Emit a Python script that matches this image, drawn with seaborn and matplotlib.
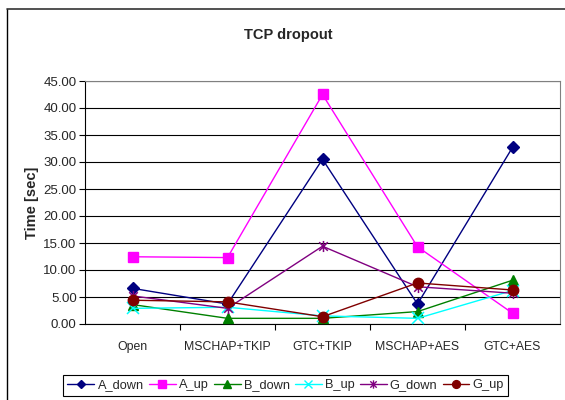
import numpy as np
import pandas as pd
import matplotlib
matplotlib.use("Agg")
import matplotlib.pyplot as plt
from matplotlib.lines import Line2D
from matplotlib.path import Path
import seaborn as sns

categories = ["Open", "MSCHAP+TKIP", "GTC+TKIP", "MSCHAP+AES", "GTC+AES"]
a_down = [6.6, 3.7, 30.5, 3.7, 32.7]
a_up = [12.45, 12.3, 42.5, 14.3, 2.0]
b_down = [3.6, 1.05, 1.05, 2.3, 8.1]
b_up = [2.9, 3.1, 1.5, 1.05, 6.2]
g_down = [5.2, 2.9, 14.4, 6.9, 5.7]
g_up = [4.4, 4.1, 1.35, 7.6, 6.3]

series = {
    "A_down": a_down,
    "A_up": a_up,
    "B_down": b_down,
    "B_up": b_up,
    "G_down": g_down,
    "G_up": g_up,
}

rows = []
for name, vals in series.items():
    for i, v in enumerate(vals):
        rows.append({"pos": i, "category": categories[i], "series": name, "time": v})
df = pd.DataFrame(rows)

# asterisk marker: an "x" crossed by a vertical stroke
star_path = Path(
    [(-1, -1), (1, 1), (-1, 1), (1, -1), (0, -1.3), (0, 1.3)],
    [Path.MOVETO, Path.LINETO, Path.MOVETO, Path.LINETO, Path.MOVETO, Path.LINETO],
)

palette = {
    "A_down": "#000080",
    "A_up": "#FF00FF",
    "B_down": "#008000",
    "B_up": "#00FFFF",
    "G_down": "#800080",
    "G_up": "#800000",
}
markers = {
    "A_down": "D",
    "A_up": "s",
    "B_down": "^",
    "B_up": "x",
    "G_down": star_path,
    "G_up": "o",
}
sizes = {"A_down": 6, "A_up": 7.5, "B_down": 7, "B_up": 8, "G_down": 8, "G_up": 7.5}
hollow = ("B_up", "G_down")

sns.set_theme(style="white")
plt.rcParams["font.family"] = ["Liberation Sans", "DejaVu Sans"]

fig = plt.figure(figsize=(5.65, 4.0), dpi=100)
ax = fig.add_axes([85 / 565, 1 - 324 / 400, (560 - 85) / 565, (324 - 81) / 400])

for name in series:
    sub = df[df["series"] == name]
    filled = name not in hollow
    sns.lineplot(
        data=sub, x="pos", y="time", ax=ax, color=palette[name], linewidth=1.0,
        marker=markers[name], markersize=sizes[name],
        markerfacecolor=palette[name] if filled else "none",
        markeredgecolor=palette[name], markeredgewidth=1.0 if filled else 1.1,
        label=name, legend=False, zorder=3,
    )

ax.set_xlim(-0.5, len(categories) - 0.5)
ax.set_ylim(0, 45)
yt = np.arange(0, 46, 5)
ax.set_yticks(yt)
ax.set_yticklabels([f"{v:.2f}" for v in yt], fontsize=9.5)
ax.yaxis.grid(True, color="black", linewidth=0.8)
ax.set_axisbelow(True)

ax.set_xticks(np.arange(0.5, len(categories) - 0.5, 1.0))
ax.set_xticklabels([])
ax.set_xticks(np.arange(len(categories)), minor=True)
ax.set_xticklabels(categories, minor=True, fontsize=8.8)
ax.tick_params(axis="x", which="major", direction="out", length=4, width=0.8, color="black", bottom=True)
ax.tick_params(axis="x", which="minor", length=0, pad=12)
ax.tick_params(axis="y", direction="out", length=4, width=0.8, color="black", left=True, pad=2)

ax.set_xlabel("")
ax.set_ylabel("Time [sec]", fontsize=10.5, fontweight="bold", labelpad=3)
ax.set_title("TCP dropout", fontsize=10.5, fontweight="bold", x=(288 - 85) / 475, pad=30)

for side in ("left", "bottom"):
    ax.spines[side].set_color("black")
    ax.spines[side].set_linewidth(0.8)
for side in ("top", "right"):
    ax.spines[side].set_color("#808080")
    ax.spines[side].set_linewidth(0.8)

handles = [
    Line2D([], [], color=palette[n], linewidth=1.0, marker=markers[n],
           markersize=sizes[n] * 0.75,
           markerfacecolor=palette[n] if n not in hollow else "none",
           markeredgecolor=palette[n])
    for n in series
]
leg = fig.legend(
    handles, list(series.keys()), loc="upper left",
    bbox_to_anchor=(63 / 565, 1 - 375 / 400), ncol=6, fontsize=9.2,
    frameon=True, fancybox=False, edgecolor="black", framealpha=1,
    handlelength=2.1, handletextpad=0.25, columnspacing=0.4, borderpad=0.35,
    borderaxespad=0,
)
leg.get_frame().set_linewidth(0.8)

# outer chart frame
fig.add_artist(Line2D([6.5 / 565, 6.5 / 565], [0, 1 - 8.5 / 400], color="black", linewidth=1.0, transform=fig.transFigure))
fig.add_artist(Line2D([6.5 / 565, 1], [1 - 8.5 / 400, 1 - 8.5 / 400], color="#333333", linewidth=1.2, transform=fig.transFigure))

fig.savefig("out.png", dpi=100)
